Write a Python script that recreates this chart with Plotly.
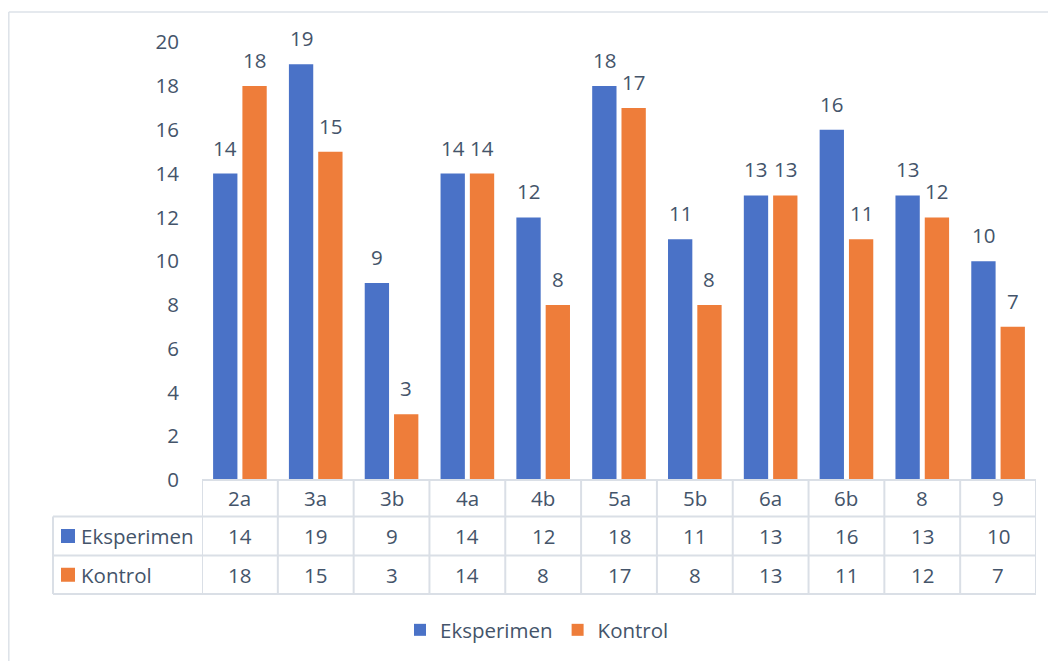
import plotly.graph_objects as go

categories = ["2a", "3a", "3b", "4a", "4b", "5a", "5b", "6a", "6b", "8", "9"]
eksperimen = [14, 19, 9, 14, 12, 18, 11, 13, 16, 13, 10]
kontrol = [18, 15, 3, 14, 8, 17, 8, 13, 11, 12, 7]
series_names = ["Eksperimen", "Kontrol"]
y_ticks = [0, 2, 4, 6, 8, 10, 12, 14, 16, 18, 20]

W, H = 1056, 661
OFF = 8  # page body margin offset
def px(x):
    return (x - OFF) / W
def py(y):
    return 1 - (y - OFF) / H

TXT = "#44546A"
FONT = "Open Sans"
FS = 20.5
BLUE = "#4A72C7"
ORANGE = "#EE7D3A"
GRID = "#DADFE6"
BARGAP, BARGROUPGAP = 0.227, 0.17

# table geometry (pixels in the reference picture)
PL, PR = 202, 1036
TL = 53
ROW_TOP, ROW1, ROW2, ROW_BOT = 480, 516.5, 555.5, 594

fig = go.Figure()
fig.add_trace(go.Bar(x=categories, y=eksperimen, name=series_names[0],
                     marker=dict(color=BLUE, line=dict(width=0))))
fig.add_trace(go.Bar(x=categories, y=kontrol, name=series_names[1],
                     marker=dict(color=ORANGE, line=dict(width=0))))

shapes = []
ann = []
line = dict(color=GRID, width=2)
# outer chart border (top & left visible)
shapes.append(dict(type="line", xref="paper", yref="paper", x0=px(8.8), x1=1,
                   y0=py(12), y1=py(12), line=dict(color="#DDE2E8", width=1.5)))
shapes.append(dict(type="line", xref="paper", yref="paper", x0=px(8.8), x1=px(8.8),
                   y0=py(12), y1=0, line=dict(color="#DDE2E8", width=1.5)))
# table horizontal lines
shapes.append(dict(type="line", xref="paper", yref="paper", x0=px(PL), x1=px(PR),
                   y0=py(ROW_TOP), y1=py(ROW_TOP), line=line))
for yy in (ROW1, ROW2, ROW_BOT):
    shapes.append(dict(type="line", xref="paper", yref="paper", x0=px(TL), x1=px(PR),
                       y0=py(yy), y1=py(yy), line=line))
# left vertical edge
shapes.append(dict(type="line", xref="paper", yref="paper", x0=px(TL), x1=px(TL),
                   y0=py(ROW1), y1=py(ROW_BOT), line=line))
# category boundaries
for i in range(len(categories) + 1):
    shapes.append(dict(type="line", xref="x", yref="paper", x0=i - 0.5, x1=i - 0.5,
                       y0=py(ROW_TOP), y1=py(ROW_BOT), line=line))

# data labels above bars (placed on the data scale, shifted to each bar of the group)
cat_w = (PR - PL) / len(categories)
slot = cat_w * (1 - BARGAP) / 2
for i in range(len(categories)):
    for k, vals in enumerate((eksperimen, kontrol)):
        ann.append(dict(x=i, xref="x", y=vals[i], yref="y", text=str(vals[i]), showarrow=False,
                        xanchor="center", yanchor="bottom", xshift=(k - 0.5) * slot, yshift=10,
                        font=dict(color=TXT, size=FS, family=FONT)))

# table text
rows_y = [(ROW_TOP + ROW1) / 2, (ROW1 + ROW2) / 2, (ROW2 + ROW_BOT) / 2]
for i, c in enumerate(categories):
    for ry, t in ((rows_y[0], c), (rows_y[1], str(eksperimen[i])), (rows_y[2], str(kontrol[i]))):
        ann.append(dict(x=i, xref="x", y=py(ry), yref="paper", text=t, showarrow=False,
                        xanchor="center", yanchor="middle",
                        font=dict(color=TXT, size=FS, family=FONT)))
# row labels with keys
for name, col, ry in ((series_names[0], BLUE, rows_y[1]), (series_names[1], ORANGE, rows_y[2])):
    shapes.append(dict(type="rect", xref="paper", yref="paper", x0=px(61), x1=px(75),
                       y0=py(ry - 7), y1=py(ry + 7), fillcolor=col, line=dict(width=0)))
    ann.append(dict(x=px(79), xref="paper", y=py(ry), yref="paper", text=name, showarrow=False,
                    xanchor="left", yanchor="middle", font=dict(color=TXT, size=FS, family=FONT)))

fig.update_layout(
    width=W, height=H,
    margin=dict(l=0, r=0, t=0, b=0, pad=0, autoexpand=False),
    paper_bgcolor="white", plot_bgcolor="white",
    barmode="group", bargap=BARGAP, bargroupgap=BARGROUPGAP,
    font=dict(family=FONT, color=TXT, size=FS),
    xaxis=dict(domain=[px(PL), px(PR)], showticklabels=False, showgrid=False,
               zeroline=False, showline=False, range=[-0.5, len(categories) - 0.5]),
    yaxis=dict(domain=[py(ROW_TOP), py(42.3)], range=[0, 20], tickvals=y_ticks,
               showgrid=False, zeroline=False, showline=False, ticklabelstandoff=22,
               automargin=False, tickfont=dict(color=TXT, size=FS, family=FONT)),
    legend=dict(orientation="h", x=px(537), xanchor="center", y=py(630), yanchor="middle",
                font=dict(color=TXT, size=FS, family=FONT), itemwidth=30,
                bgcolor="rgba(0,0,0,0)"),
    shapes=shapes, annotations=ann,
)

fig.write_html("out.html")
